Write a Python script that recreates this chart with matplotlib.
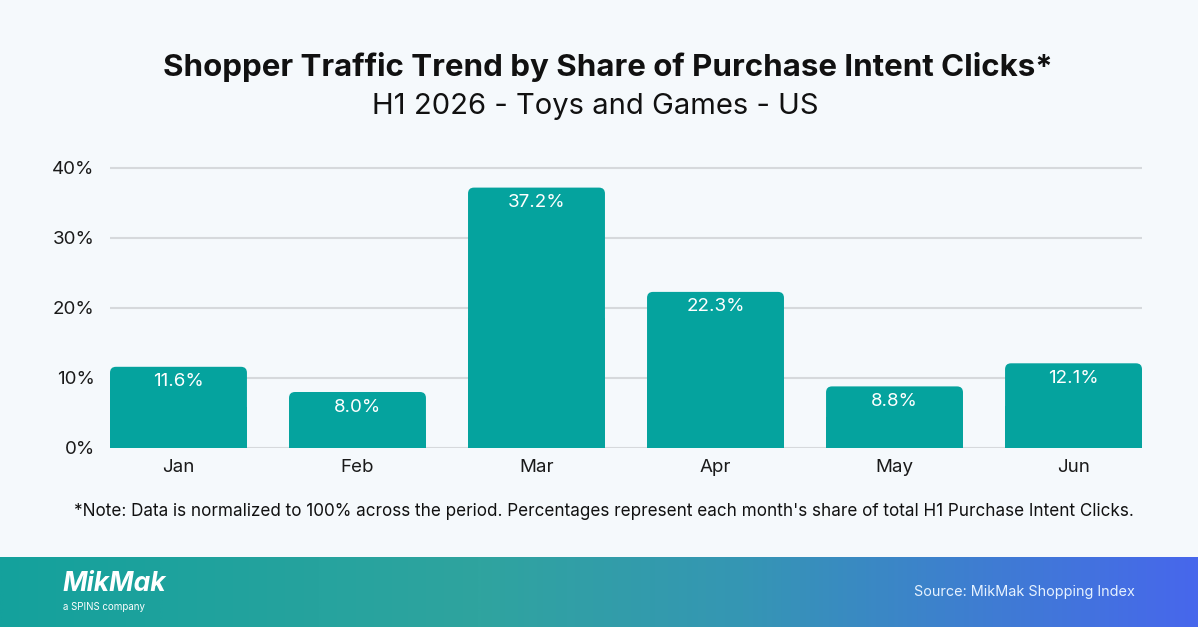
import matplotlib.pyplot as plt
import numpy as np
from matplotlib.patches import FancyBboxPatch
from matplotlib.colors import LinearSegmentedColormap

plt.rcParams['font.family'] = ['Inter', 'DejaVu Sans']

# Data
months = ['Jan', 'Feb', 'Mar', 'Apr', 'May', 'Jun']
share = [11.6, 8.0, 37.2, 22.3, 8.8, 12.1]
yticks = [0, 10, 20, 30, 40]

bg = '#F5F9FC'
bar_col = '#05A39E'
W, H = 1198, 627

fig = plt.figure(figsize=(W / 100, H / 100), dpi=100, facecolor=bg)

# Main axes
ax = fig.add_axes([110 / W, 179 / H, 1032 / W, 287 / H])
ax.set_facecolor(bg)
x = np.arange(len(months))
bw = 0.765
ax.set_xlim(-bw / 2, len(months) - 1 + bw / 2)
ax.set_ylim(0, 41)

# bars: square lower part + rounded top
r_px = 6
px_x = 1032 / (len(months) - 1 + bw)
px_y = 287 / 41
rx = r_px / px_x
for xi, v in zip(x, share):
    ax.bar(xi, v / 2, width=bw, color=bar_col, zorder=3)
    p = FancyBboxPatch((xi - bw / 2, 0), bw, v,
                       boxstyle=f'round,pad=0,rounding_size={rx}',
                       mutation_aspect=px_x / px_y,
                       facecolor=bar_col, edgecolor='none', zorder=3)
    ax.add_patch(p)
    ax.text(xi, v - 2.15, f'{v:.1f}%', ha='center', va='center',
            color='white', fontsize=13.5, zorder=4)

ax.set_yticks(yticks)
ax.set_yticklabels([f'{t}%' for t in yticks])
ax.set_xticks(x)
ax.set_xticklabels(months)
ax.tick_params(axis='both', length=0, labelsize=13.5, colors='#1a1a1a')
ax.tick_params(axis='y', pad=11)
ax.tick_params(axis='x', pad=8)
for s in ax.spines.values():
    s.set_visible(False)
for t in yticks:
    ax.axhline(t, color='#D6D9DC', lw=1.5, zorder=1)

# Titles and note
fig.text(608 / W, 1 - 67 / H, 'Shopper Traffic Trend by Share of Purchase Intent Clicks*',
         ha='center', va='center', fontsize=22.5, fontweight='bold', color='#111111')
fig.text(595 / W, 1 - 106 / H, 'H1 2026 - Toys and Games - US',
         ha='center', va='center', fontsize=21, color='#111111')
fig.text(604 / W, 1 - 511 / H,
         "*Note: Data is normalized to 100% across the period. Percentages represent each month's share of total H1 Purchase Intent Clicks.",
         ha='center', va='center', fontsize=12.3, color='#111111')

# Footer gradient
fax = fig.add_axes([0, 0, 1, 70 / H])
cmap = LinearSegmentedColormap.from_list('foot', [(0, '#14A19C'), (0.4, '#2FA49F'),
                                                  (0.62, '#3596B4'), (1, '#4767EC')])
fax.imshow(np.linspace(0, 1, 512)[None, :], aspect='auto', cmap=cmap, extent=[0, 1, 0, 1])
fax.set_xlim(0, 1)
fax.set_ylim(0, 1)
fax.axis('off')
fax.text(62 / W, 0.62, 'MikMak', ha='left', va='center', fontsize=19,
         fontweight='bold', fontstyle='italic', color='white')
fax.text(63 / W, 0.28, 'a SPINS company', ha='left', va='center', fontsize=7, color='white')
fax.text(1135 / W, 0.5, 'Source: MikMak Shopping Index', ha='right', va='center',
         fontsize=10.4, color='#E6F2FF')

fig.savefig('out.png', dpi=100, facecolor=bg)
